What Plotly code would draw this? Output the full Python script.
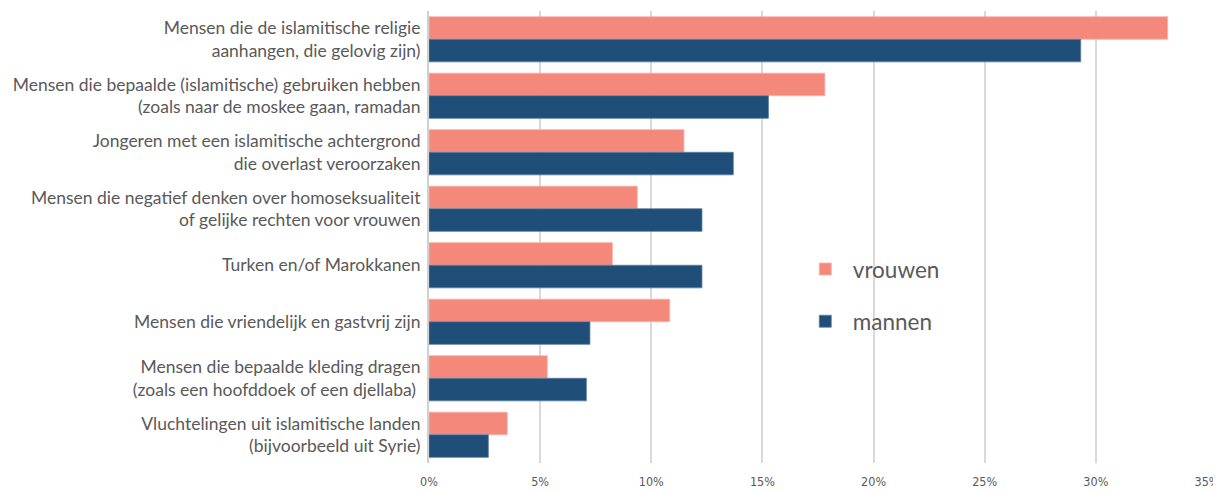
import plotly.graph_objects as go

categories = [
    "Mensen die de islamitische religie<br>aanhangen, die gelovig zijn)",
    "Mensen die bepaalde (islamitische) gebruiken hebben<br>(zoals naar de moskee gaan, ramadan",
    "Jongeren met een islamitische achtergrond<br>die overlast veroorzaken",
    "Mensen die negatief denken over homoseksualiteit<br>of gelijke rechten voor vrouwen",
    "Turken en/of Marokkanen",
    "Mensen die vriendelijk en gastvrij zijn",
    "Mensen die bepaalde kleding dragen<br>(zoals een hoofddoek of een djellaba) ",
    "Vluchtelingen uit islamitische landen<br>(bijvoorbeeld uit Syrie)",
]
vrouwen = [0.3323, 0.1781, 0.1147, 0.0937, 0.0825, 0.1083, 0.0532, 0.0352]
mannen = [0.2932, 0.1527, 0.1369, 0.1228, 0.1228, 0.0724, 0.0708, 0.0267]
tick_vals = [0, 0.05, 0.10, 0.15, 0.20, 0.25, 0.30, 0.35]
tick_text = ["0%", "5%", "10%", "15%", "20%", "25%", "30%", "35%"]

FONT = "Lato, Carlito, Calibri, sans-serif"
TICKFONT = "Liberation Sans Narrow, DejaVu Sans Condensed, sans-serif"
GREY = "#595959"

fig = go.Figure()
fig.add_trace(go.Bar(
    y=categories, x=vrouwen, name="vrouwen", orientation="h",
    marker=dict(color="#F4897B", line=dict(color="#F7B3AA", width=0.8)),
    legendgroup="v",
))
fig.add_trace(go.Bar(
    y=categories, x=mannen, name="mannen", orientation="h",
    marker=dict(color="#1F4E79", line=dict(color="#5B7FA3", width=0.8)),
    legendgroup="m",
))

# page body has an 8px default margin, so the figure is offset by (8, 8)
fig.update_layout(
    width=1213, height=483,
    margin=dict(l=421, r=14, t=3, b=28, autoexpand=False),
    paper_bgcolor="white", plot_bgcolor="white",
    barmode="group", bargap=0.2, bargroupgap=0,
    font=dict(family=FONT, color=GREY),
    showlegend=True,
    legend=dict(
        x=0.474, y=0.476, xanchor="left", yanchor="top",
        font=dict(size=22.5, color=GREY, family=FONT),
        traceorder="grouped", tracegroupgap=20,
        itemwidth=45,
        bgcolor="rgba(0,0,0,0)",
    ),
    xaxis=dict(
        range=[0, 0.35], tickvals=tick_vals, ticktext=tick_text,
        showgrid=True, gridcolor="#D9D9D9", gridwidth=1.5,
        zeroline=False, showline=False, automargin=False,
        ticks="outside", ticklen=7, tickcolor="rgba(0,0,0,0)",
        tickfont=dict(size=12.5, color=GREY, family=TICKFONT),
        ticklabeloverflow="allow",
        fixedrange=True,
    ),
    yaxis=dict(
        autorange="reversed", showgrid=False, zeroline=False, automargin=False,
        showline=True, linecolor="#D0D0D0", linewidth=2,
        ticks="outside", ticklen=3, tickcolor="rgba(0,0,0,0)",
        tickfont=dict(size=17.5, color=GREY, family=FONT),
    ),
)

fig.write_html("out.html")
